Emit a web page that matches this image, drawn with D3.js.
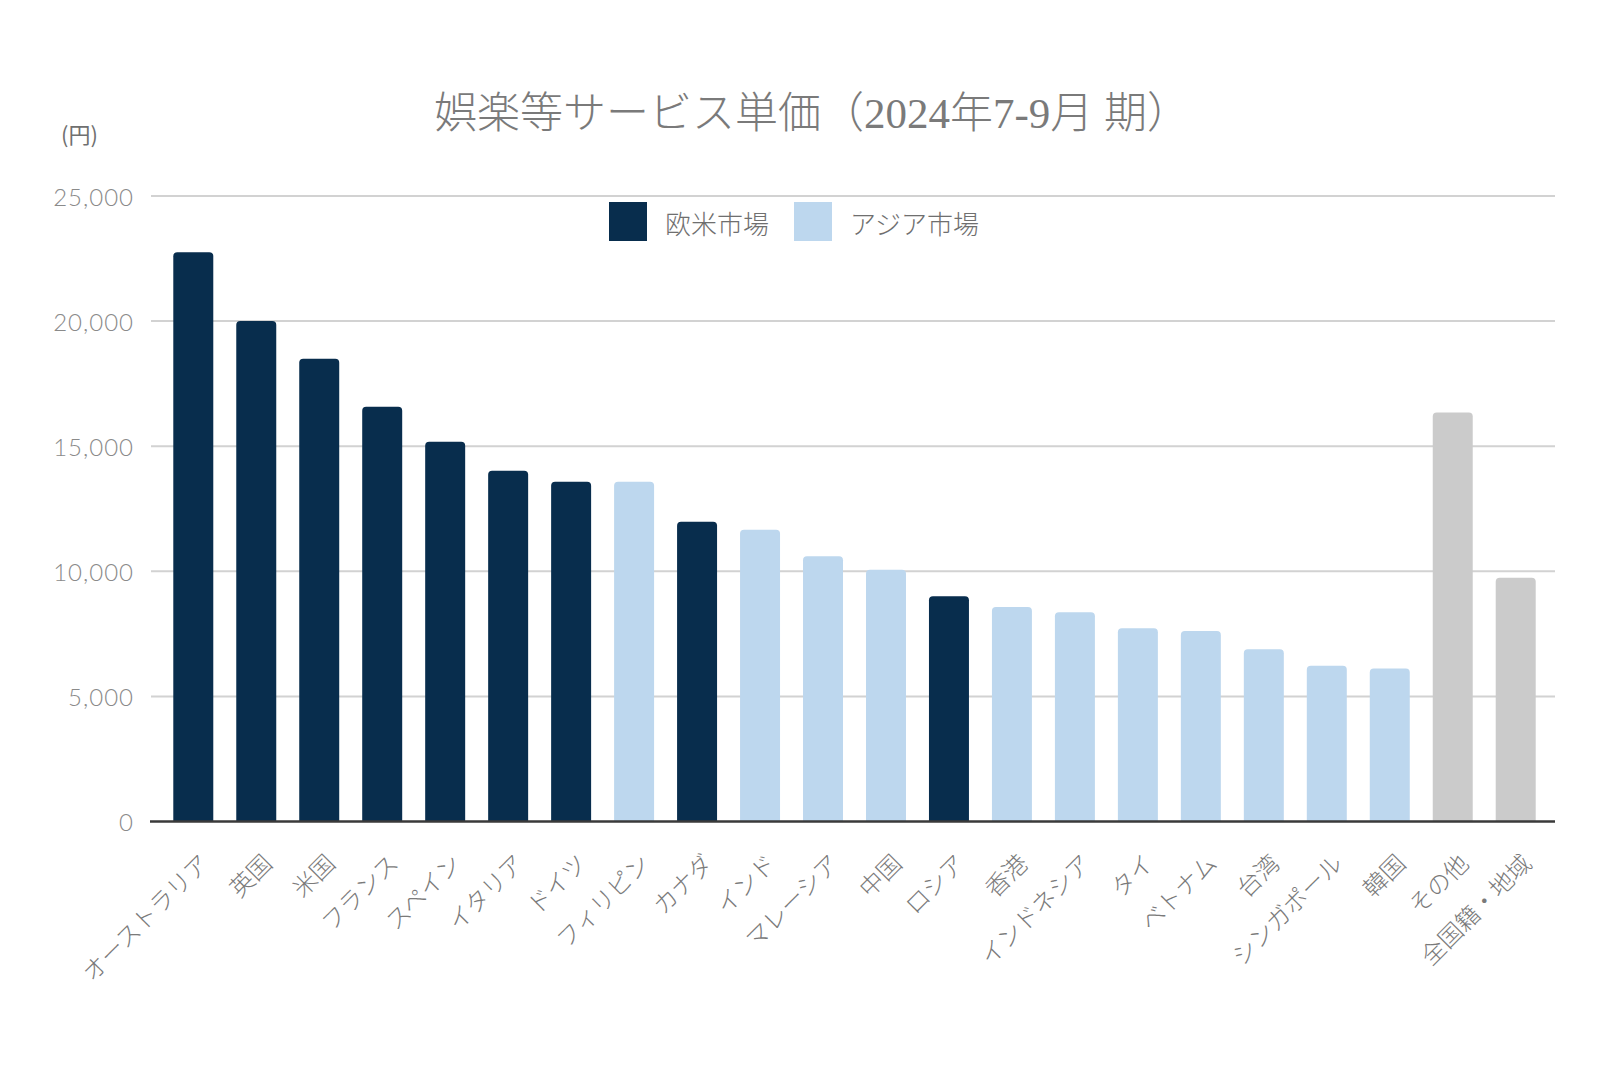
<!DOCTYPE html>
<html>
<head>
<meta charset="utf-8">
<script src="https://cdn.jsdelivr.net/npm/d3@7"></script>
<style>
  html, body { margin: 0; padding: 0; background: #fff; }
  svg { display: block; }
</style>
</head>
<body>
<svg id="chart" width="1600" height="1067"></svg>
<script>
// ---- data ----
const categories = ["オーストラリア","英国","米国","フランス","スペイン","イタリア","ドイツ","フィリピン","カナダ","インド","マレーシア","中国","ロシア","香港","インドネシア","タイ","ベトナム","台湾","シンガポール","韓国","その他","全国籍・地域"];
const values = [22750, 20000, 18500, 16580, 15180, 14020, 13580, 13580, 11980, 11660, 10600, 10060, 9000, 8570, 8360, 7720, 7610, 6880, 6230, 6120, 16350, 9740];
const groups = ["west","west","west","west","west","west","west","asia","west","asia","asia","asia","west","asia","asia","asia","asia","asia","asia","asia","other","other"];
const legendLabels = ["欧米市場","アジア市場"];
const yTicks = [0, 5000, 10000, 15000, 20000, 25000];
const titleText = "娯楽等サービス単価（2024年7-9月 期）";
const unitText = "(円)";

const colors = { west: "#082d4d", asia: "#bdd7ee", other: "#cbcbcb" };

const svg = d3.select("#chart");

const x = d3.scaleBand()
  .domain(categories)
  .range([161.8, 1547.2])
  .paddingInner(0.365)
  .paddingOuter(0.1825);

const y = d3.scaleLinear().domain([0, 25000]).range([821.5, 196]);

// gridlines
svg.append("g").selectAll("line").data(yTicks.filter(d => d > 0)).join("line")
  .attr("x1", 151).attr("x2", 1555)
  .attr("y1", d => y(d)).attr("y2", d => y(d))
  .attr("stroke", "#d2d2d2").attr("stroke-width", 2);

// y tick labels
const fmt = d3.format(",");
svg.append("g").selectAll("text").data(yTicks).join("text")
  .attr("x", 134).attr("y", d => y(d))
  .attr("text-anchor", "end").attr("dominant-baseline", "central")
  .attr("font-family", "Lato, 'Open Sans', sans-serif")
  .attr("font-size", 24).attr("font-weight", 300)
  .attr("letter-spacing", 1)
  .attr("fill", "#8a8a8a")
  .text(d => fmt(d));

// unit label
svg.append("text").attr("x", 61).attr("y", 133)
  .attr("dominant-baseline", "central")
  .attr("font-family", "'Noto Sans CJK JP', sans-serif")
  .attr("font-size", 22).attr("fill", "#707070")
  .text(unitText);

// bars with rounded tops
function barPath(x0, y0, w, h, r) {
  r = Math.min(r, h, w / 2);
  return `M${x0},${y0 + h}V${y0 + r}Q${x0},${y0} ${x0 + r},${y0}H${x0 + w - r}Q${x0 + w},${y0} ${x0 + w},${y0 + r}V${y0 + h}Z`;
}
svg.append("g").selectAll("path").data(categories).join("path")
  .attr("d", (c, i) => barPath(x(c), y(values[i]), x.bandwidth(), y(0) - y(values[i]), 4))
  .attr("fill", (c, i) => colors[groups[i]]);

// baseline
svg.append("line").attr("x1", 150).attr("x2", 1555)
  .attr("y1", y(0)).attr("y2", y(0))
  .attr("stroke", "#3a3a3a").attr("stroke-width", 2.5);

// x labels
svg.append("g").selectAll("text").data(categories).join("text")
  .attr("transform", c => `translate(${x(c) + x.bandwidth() / 2 + 10},${y(0) + 36}) rotate(-45)`)
  .attr("text-anchor", "end").attr("dominant-baseline", "central")
  .attr("font-family", "'Noto Sans CJK JP', sans-serif")
  .attr("font-size", 24).attr("font-weight", 300)
  .attr("fill", "#7a7a7a")
  .text(c => c);

// title
svg.append("text").attr("x", 812).attr("y", 113)
  .attr("text-anchor", "middle").attr("dominant-baseline", "central")
  .attr("font-family", "'Liberation Serif', 'Noto Sans CJK JP', serif")
  .attr("font-size", 43).attr("font-weight", 300)
  .attr("fill", "#7a7a7a")
  .text(titleText);

// legend
const legendX = [609, 794];
const legendKeys = ["west", "asia"];
const lg = svg.append("g");
legendKeys.forEach((k, i) => {
  lg.append("rect").attr("x", legendX[i]).attr("y", 202).attr("width", 38).attr("height", 39)
    .attr("fill", colors[k]);
  lg.append("text").attr("x", legendX[i] + 56).attr("y", 222)
    .attr("dominant-baseline", "central")
    .attr("font-family", "'Noto Sans CJK JP', sans-serif")
    .attr("font-size", 26).attr("font-weight", 300)
    .attr("fill", "#6f6f6f")
    .text(legendLabels[i]);
});
</script>
</body>
</html>
